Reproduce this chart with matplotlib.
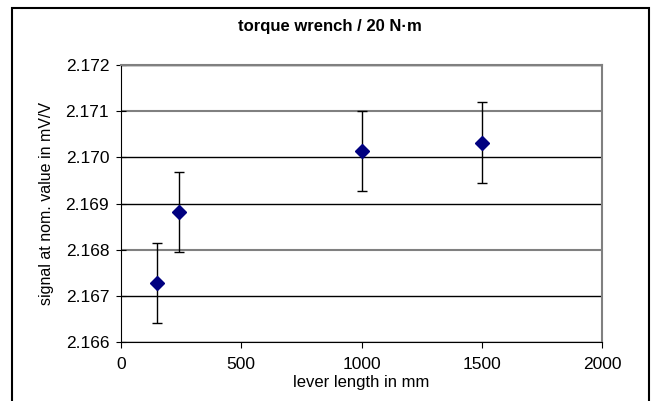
import matplotlib
matplotlib.use("Agg")
import matplotlib.pyplot as plt
from matplotlib.patches import Rectangle

# data
lever_mm = [150, 240, 1000, 1500]
signal = [2.16728, 2.16882, 2.17014, 2.17032]
err = [0.00087, 0.00087, 0.00086, 0.00087]

plt.rcParams["font.family"] = ["Liberation Sans", "DejaVu Sans"]

fig = plt.figure(figsize=(6.53, 4.01), dpi=100)
ax = fig.add_axes([121/653, 1-342/401, (602-121)/653, (342-65)/401])

# outer chart border (bottom runs past the picture)
fig.patches.append(Rectangle((11.5/653, -0.05), (649-11.5)/653, 1-8/401+0.05,
                             transform=fig.transFigure, fill=False,
                             edgecolor="black", lw=1.5))

ax.errorbar(lever_mm, signal, yerr=err, fmt="D", color="#000080", ms=7.5,
            ecolor="black", elinewidth=1, capsize=3.5, capthick=1, zorder=3)

ax.set_xlim(0, 2000)
ax.set_ylim(2.166, 2.172)
ax.set_xticks([0, 500, 1000, 1500, 2000])
ax.set_yticks([2.166, 2.167, 2.168, 2.169, 2.170, 2.171, 2.172])
ax.yaxis.set_major_formatter(matplotlib.ticker.FormatStrFormatter("%.3f"))

ax.grid(axis="y", color="black", lw=1)
ax.set_axisbelow(True)
grid = ax.get_ygridlines()
for i in (2, 5):
    grid[i].set_color("#808080")
    grid[i].set_linewidth(1.5)

for s in ("top", "right"):
    ax.spines[s].set_color("#808080")
    ax.spines[s].set_linewidth(1.5)
ax.spines["left"].set_color("black")
ax.spines["bottom"].set_color("black")

ax.tick_params(axis="y", direction="inout", length=7, labelsize=12.5, pad=5)
ax.tick_params(axis="x", direction="out", length=4, labelsize=12.5, pad=7)

ax.text(0.505, 1 - 27/401, "torque wrench / 20 N·m", transform=fig.transFigure,
        ha="center", va="center", fontsize=12, fontweight="bold")
ax.set_xlabel("lever length in mm", fontsize=12, labelpad=2)
ax.set_ylabel("signal at nom. value in mV/V", fontsize=11.5, labelpad=8)

fig.savefig("out.png", dpi=100)
